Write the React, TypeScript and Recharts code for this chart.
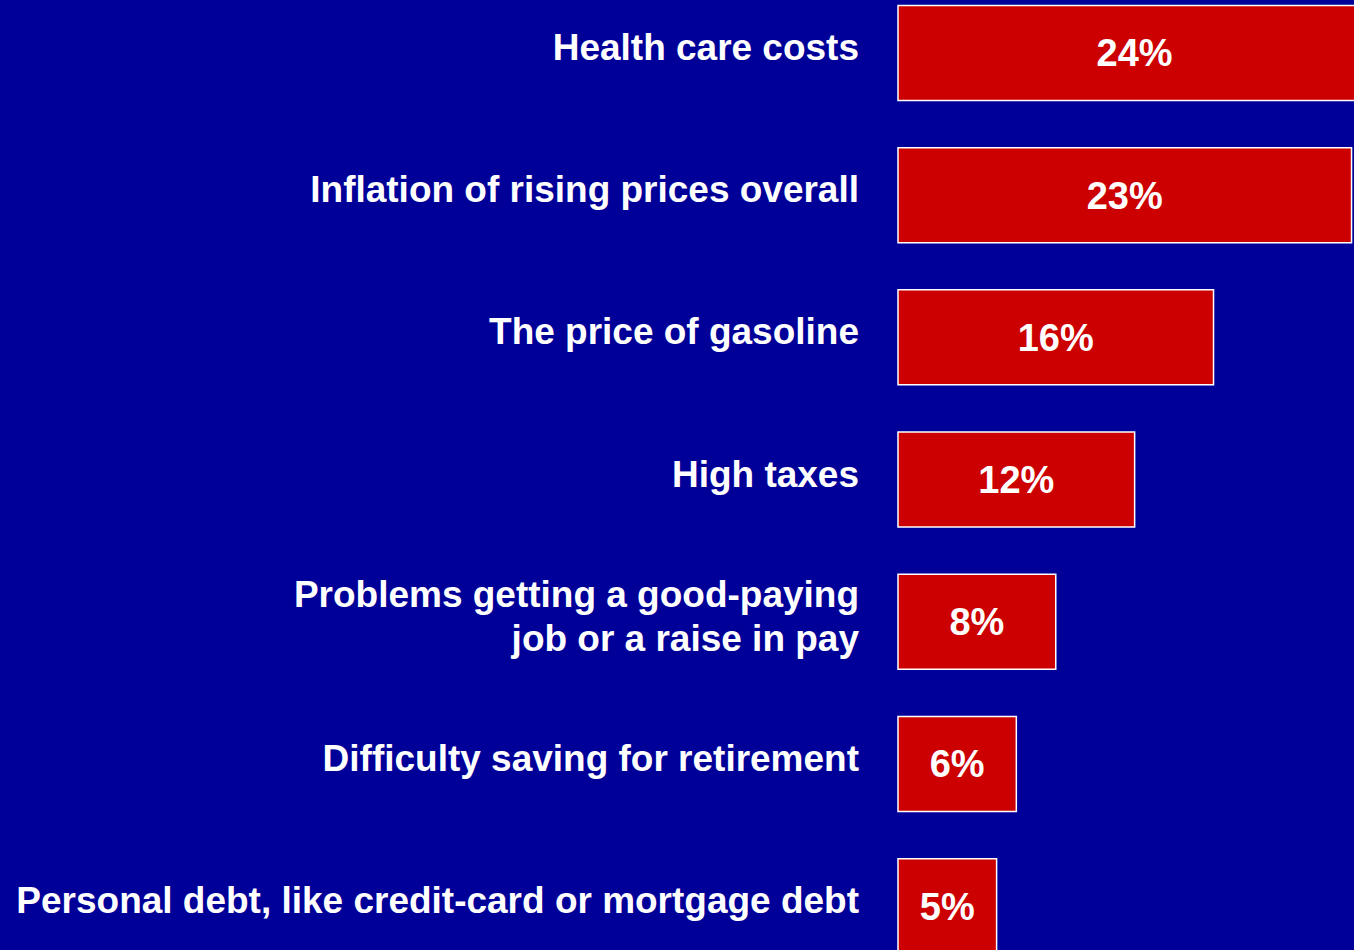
import { BarChart, Bar, XAxis, YAxis, LabelList } from "recharts";

const CONCERNS = [
  "Health care costs",
  "Inflation of rising prices overall",
  "The price of gasoline",
  "High taxes",
  "Problems getting a good-paying\njob or a raise in pay",
  "Difficulty saving for retirement",
  "Personal debt, like credit-card or mortgage debt",
];

const SHARES = [24, 23, 16, 12, 8, 6, 5];

const data = CONCERNS.map((label, i) => ({ label, share: SHARES[i] }));

const BG = "#000099";
const RED = "#cc0000";
const FONT = "'Liberation Sans', Arial, Helvetica, sans-serif";

function LabelTick({ x, y, payload }: any) {
  const lines = String(payload.value).split("\n");
  const first = 7 - (lines.length - 1) * 22;
  return (
    <text
      x={x}
      y={y}
      textAnchor="end"
      fill="#fff"
      fontFamily={FONT}
      fontWeight="bold"
      fontSize={37}
    >
      {lines.map((ln, i) => (
        <tspan key={i} x={x} dy={i === 0 ? first : 44}>
          {ln}
        </tspan>
      ))}
    </text>
  );
}

function ValueLabel({ x, y, width, height, value }: any) {
  return (
    <text
      x={x + width / 2}
      y={y + height / 2 + 13.5}
      textAnchor="middle"
      fill="#fff"
      fontFamily={FONT}
      fontWeight="bold"
      fontSize={38}
    >
      {value}%
    </text>
  );
}

export default function App() {
  return (
    <div
      style={{
        position: "fixed",
        left: 0,
        top: 0,
        width: 1354,
        height: 950,
        overflow: "hidden",
        background: BG,
      }}
    >
      <div style={{ position: "absolute", left: 0, top: -17.6 }}>
        <BarChart
          layout="vertical"
          width={1391}
          height={995.4}
          data={data}
          margin={{ top: 0, right: 0, bottom: 0, left: 0 }}
          barCategoryGap="16.5%"
        >
          <XAxis type="number" domain={[0, 25]} hide />
          <YAxis
            type="category"
            dataKey="label"
            width={898}
            axisLine={false}
            tickLine={false}
            tickSize={0}
            tickMargin={39}
            interval={0}
            tick={<LabelTick />}
          />
          <Bar
            dataKey="share"
            fill={RED}
            stroke="#ffffff"
            strokeWidth={1.5}
            isAnimationActive={false}
          >
            <LabelList dataKey="share" content={<ValueLabel />} />
          </Bar>
        </BarChart>
      </div>
    </div>
  );
}
